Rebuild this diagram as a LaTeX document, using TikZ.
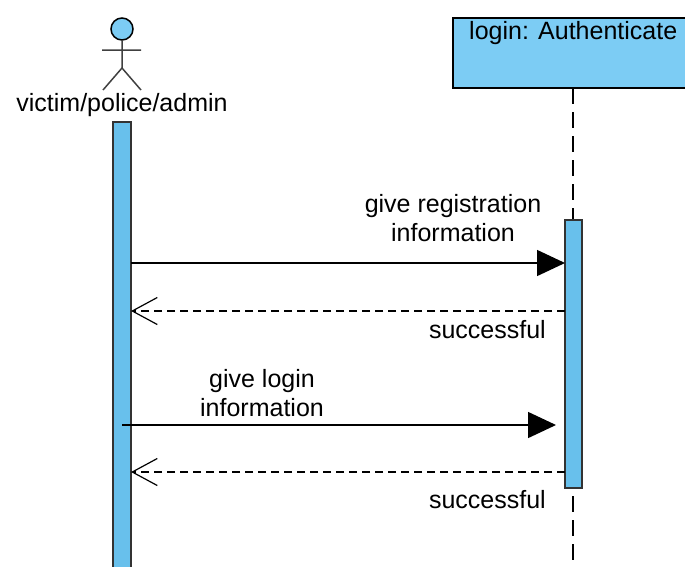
\documentclass[tikz,border=0pt]{standalone}
\usepackage{fontspec}
\setmainfont{Liberation Sans}
\usetikzlibrary{arrows.meta}
\definecolor{boxblue}{RGB}{124,204,244}
\definecolor{barblue}{RGB}{104,192,236}
\tikzset{
  msg/.style={line width=1.5pt,-{Triangle[length=28pt,width=26pt]}},
  reply/.style={line width=1.2pt,dash pattern=on 8pt off 5pt,-{Straight Barb[length=25pt,width=27pt,line width=1.2pt]}},
  label/.style={font=\fontsize{25}{29}\selectfont,align=center,inner sep=0pt},
  bar/.style={draw=black!80,line width=1.8pt,fill=barblue}
}
\begin{document}
\begin{tikzpicture}[x=1pt,y=-1pt]
  \useasboundingbox (0,0) rectangle (685,566);
  % actor
  \draw[line width=1.5pt,fill=boxblue] (122,29) circle (11);
  \draw[line width=1.5pt,black!75] (122,40) -- (122,68)
    (102,50) -- (141,50)
    (103,90) -- (122,68) -- (141,90);
  \node[label] (actor) at (122,105) {victim/police/admin};
  % object box
  \draw[line width=1.5pt,fill=boxblue] (453,18) rectangle (700,88);
  \node[label,anchor=west] (login) at (469,33) {login: Authenticate};
  \coordinate (lt) at (573,88);
  \coordinate (lb) at (573,566);
  \draw[line width=1.5pt,dash pattern=on 16pt off 8pt] (lt) -- (lb);
  % activation bars
  \draw[bar] (113,122) rectangle (131,580);
  \draw[bar] (565,220) rectangle (582,488);
  \coordinate (a1) at (131,263);
  \coordinate (b1) at (565,263);
  \coordinate (a2) at (131,311);
  \coordinate (b2) at (565,311);
  \coordinate (a3) at (122,425);
  \coordinate (b3) at (556,425);
  \coordinate (a4) at (131,472);
  \coordinate (b4) at (565,472);
  \node[label] (m1) at (453,218) {give registration\\information};
  \node[label,anchor=east] (r1) at (546,330) {successful};
  \node[label] (m2) at (262,393) {give login\\information};
  \node[label,anchor=east] (r2) at (546,500) {successful};
  \begin{scope}
    \draw[msg] (a1) to (b1);
    \draw[reply] (b2) to (a2);
    \draw[msg] (a3) to (b3);
    \draw[reply] (b4) to (a4);
  \end{scope}
\end{tikzpicture}
\end{document}
